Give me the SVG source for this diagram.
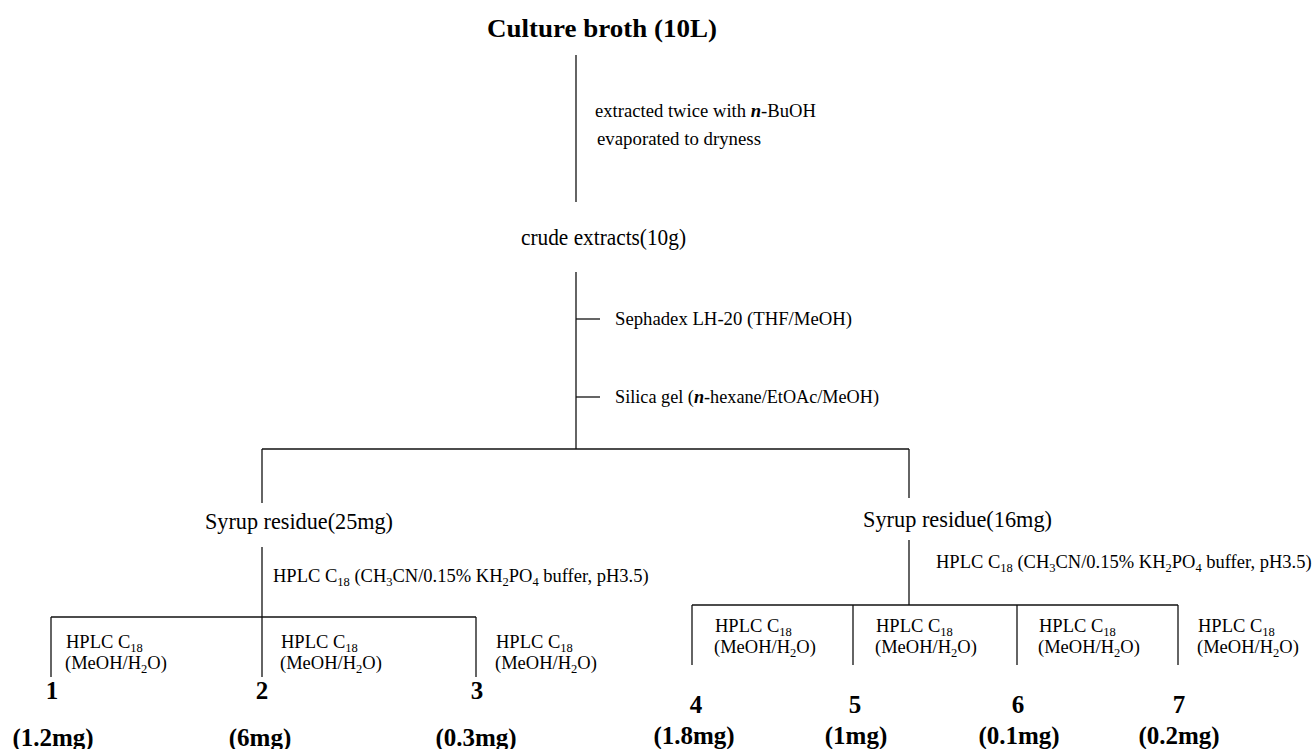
<svg xmlns="http://www.w3.org/2000/svg" width="1316" height="749" viewBox="0 0 1316 749">
<style>
text{font-family:"Liberation Serif","Times New Roman",serif;fill:#000}
.b{font-weight:bold}
.t{font-size:26px}
.m{font-size:23px}
.s{font-size:18.5px}
.n{font-size:25px;text-anchor:middle}
.i{font-style:italic;font-weight:bold}
.sub{font-size:12.5px}
line{stroke:#111;stroke-width:1.3;fill:none}
</style>
<rect width="1316" height="749" fill="#fff"/>
<g id="connectors">
<line x1="576" y1="55" x2="576" y2="202"/>
<line x1="576" y1="272" x2="576" y2="449"/>
<line x1="576" y1="319" x2="600" y2="319"/>
<line x1="576" y1="397" x2="600" y2="397"/>
<line x1="262" y1="449" x2="909" y2="449"/>
<line x1="262" y1="449" x2="262" y2="503"/>
<line x1="909" y1="449" x2="909" y2="498"/>
<line x1="262" y1="547" x2="262" y2="617"/>
<line x1="51" y1="617" x2="476" y2="617"/>
<line x1="51" y1="617" x2="51" y2="677"/>
<line x1="262" y1="617" x2="262" y2="677"/>
<line x1="476" y1="617" x2="476" y2="677"/>
<line x1="909" y1="540" x2="909" y2="605"/>
<line x1="692" y1="605" x2="1178" y2="605"/>
<line x1="692" y1="605" x2="692" y2="665"/>
<line x1="853" y1="605" x2="853" y2="665"/>
<line x1="1017" y1="605" x2="1017" y2="665"/>
<line x1="1178" y1="605" x2="1178" y2="665"/>
</g>
<g id="culture-broth"><text class="b t" x="487" y="37" textLength="230" lengthAdjust="spacingAndGlyphs">Culture broth (10L)</text></g>
<g id="step-extraction">
<text class="s" x="595" y="117" textLength="221" lengthAdjust="spacingAndGlyphs">extracted twice with <tspan class="i">n</tspan>-BuOH</text>
<text class="s" x="597" y="145" textLength="164" lengthAdjust="spacingAndGlyphs">evaporated to dryness</text>
</g>
<g id="crude-extracts"><text class="m" x="521" y="245" textLength="165" lengthAdjust="spacingAndGlyphs">crude extracts(10g)</text></g>
<g id="step-sephadex"><text class="s" x="615" y="325" textLength="237" lengthAdjust="spacingAndGlyphs">Sephadex LH-20 (THF/MeOH)</text></g>
<g id="step-silica"><text class="s" x="615" y="403" textLength="264" lengthAdjust="spacingAndGlyphs">Silica gel (<tspan class="i">n</tspan>-hexane/EtOAc/MeOH)</text></g>
<g id="syrup-25"><text class="m" x="205" y="529" textLength="188" lengthAdjust="spacingAndGlyphs">Syrup residue(25mg)</text></g>
<g id="syrup-16"><text class="m" x="863" y="527" textLength="189" lengthAdjust="spacingAndGlyphs">Syrup residue(16mg)</text></g>
<g id="step-hplc-left"><text class="s" x="273" y="582">HPLC C<tspan class="sub" dy="4">18</tspan><tspan dy="-4"> (CH</tspan><tspan class="sub" dy="4">3</tspan><tspan dy="-4">CN/0.15% KH</tspan><tspan class="sub" dy="4">2</tspan><tspan dy="-4">PO</tspan><tspan class="sub" dy="4">4</tspan><tspan dy="-4"> buffer, pH3.5)</tspan></text></g>
<g id="step-hplc-right"><text class="s" x="936" y="568">HPLC C<tspan class="sub" dy="4">18</tspan><tspan dy="-4"> (CH</tspan><tspan class="sub" dy="4">3</tspan><tspan dy="-4">CN/0.15% KH</tspan><tspan class="sub" dy="4">2</tspan><tspan dy="-4">PO</tspan><tspan class="sub" dy="4">4</tspan><tspan dy="-4"> buffer, pH3.5)</tspan></text></g>
<g id="hplc-labels-left">
<text class="s" x="66" y="648">HPLC C<tspan class="sub" dy="4">18</tspan></text>
<text class="s" x="65" y="669">(MeOH/H<tspan class="sub" dy="4">2</tspan><tspan dy="-4">O)</tspan></text>
<text class="s" x="281" y="648">HPLC C<tspan class="sub" dy="4">18</tspan></text>
<text class="s" x="280" y="669">(MeOH/H<tspan class="sub" dy="4">2</tspan><tspan dy="-4">O)</tspan></text>
<text class="s" x="496" y="648">HPLC C<tspan class="sub" dy="4">18</tspan></text>
<text class="s" x="495" y="669">(MeOH/H<tspan class="sub" dy="4">2</tspan><tspan dy="-4">O)</tspan></text>
</g>
<g id="hplc-labels-right">
<text class="s" x="715" y="632">HPLC C<tspan class="sub" dy="4">18</tspan></text>
<text class="s" x="714" y="653">(MeOH/H<tspan class="sub" dy="4">2</tspan><tspan dy="-4">O)</tspan></text>
<text class="s" x="876" y="632">HPLC C<tspan class="sub" dy="4">18</tspan></text>
<text class="s" x="875" y="653">(MeOH/H<tspan class="sub" dy="4">2</tspan><tspan dy="-4">O)</tspan></text>
<text class="s" x="1039" y="632">HPLC C<tspan class="sub" dy="4">18</tspan></text>
<text class="s" x="1038" y="653">(MeOH/H<tspan class="sub" dy="4">2</tspan><tspan dy="-4">O)</tspan></text>
<text class="s" x="1198" y="632">HPLC C<tspan class="sub" dy="4">18</tspan></text>
<text class="s" x="1197" y="653">(MeOH/H<tspan class="sub" dy="4">2</tspan><tspan dy="-4">O)</tspan></text>
</g>
<g id="compound-1"><text class="b n" x="52" y="699">1</text><text class="b n" x="53" y="746">(1.2mg)</text></g>
<g id="compound-2"><text class="b n" x="262" y="699">2</text><text class="b n" x="260" y="746">(6mg)</text></g>
<g id="compound-3"><text class="b n" x="477" y="699">3</text><text class="b n" x="476" y="746">(0.3mg)</text></g>
<g id="compound-4"><text class="b n" x="696" y="713">4</text><text class="b n" x="694" y="744">(1.8mg)</text></g>
<g id="compound-5"><text class="b n" x="855" y="713">5</text><text class="b n" x="856" y="744">(1mg)</text></g>
<g id="compound-6"><text class="b n" x="1018" y="713">6</text><text class="b n" x="1019" y="744">(0.1mg)</text></g>
<g id="compound-7"><text class="b n" x="1179" y="713">7</text><text class="b n" x="1179" y="744">(0.2mg)</text></g>
</svg>
